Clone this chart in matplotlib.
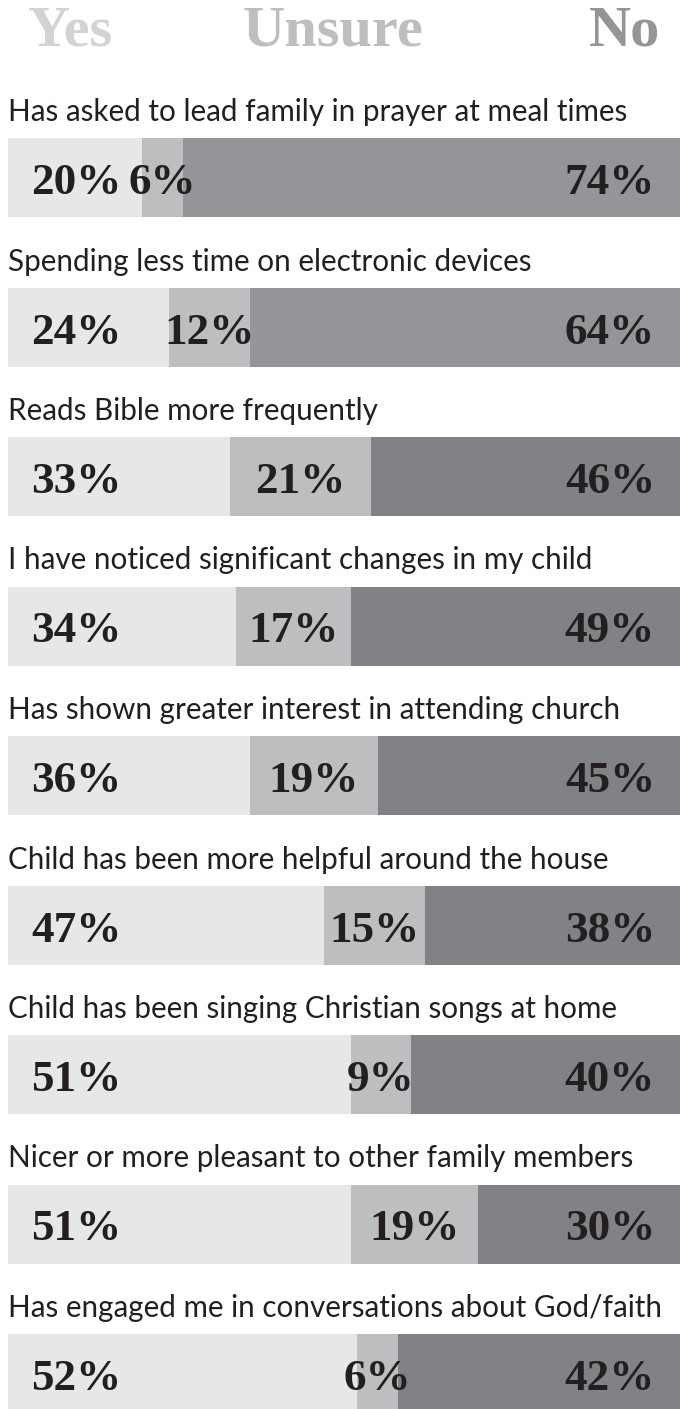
import matplotlib
matplotlib.use('Agg')
from matplotlib import pyplot as plt

questions = [
    'Has asked to lead family in prayer at meal times',
    'Spending less time on electronic devices',
    'Reads Bible more frequently',
    'I have noticed significant changes in my child',
    'Has shown greater interest in attending church',
    'Child has been more helpful around the house',
    'Child has been singing Christian songs at home',
    'Nicer or more pleasant to other family members',
    'Has engaged me in conversations about God/faith',
]
yes = [20, 24, 33, 34, 36, 47, 51, 51, 52]
unsure = [6, 12, 21, 17, 19, 15, 9, 19, 6]
no = [74, 64, 46, 49, 45, 38, 40, 30, 42]
headers = ['Yes', 'Unsure', 'No']

W, H = 680, 1409
fig = plt.figure(figsize=(W / 100, H / 100), dpi=100)
ax = fig.add_axes([0, 0, 1, 1])
# x in percent, 0 starts 8px from the left edge
ax.set_xlim(-8 / 672 * 100, 100)
ax.set_ylim(H, 0)
ax.axis('off')

c_yes, c_uns = '#e6e7e8', '#bcbec0'
c_no = ['#939598', '#939598'] + ['#808285'] * 7
serif = 'Liberation Serif'
sans = 'Lato'
dark = '#231f20'

pitch = 149.5
bar_h = 79
for i, q in enumerate(questions):
    top = 138 + i * pitch
    yc = top + bar_h / 2
    ax.barh(yc, yes[i], height=bar_h, left=0, color=c_yes, lw=0)
    ax.barh(yc, unsure[i], height=bar_h, left=yes[i], color=c_uns, lw=0)
    ax.barh(yc, no[i], height=bar_h, left=yes[i] + unsure[i], color=c_no[i], lw=0)
    ax.text(0, top - 17, q, fontsize=21.3, family=sans, color=dark,
            va='baseline', ha='left')
    base = top + 56
    ax.text(3.5, base, f'{yes[i]}%', fontsize=32.5, family=serif, weight='bold',
            color=dark, va='baseline', ha='left')
    ax.text(yes[i] + unsure[i] / 2, base, f'{unsure[i]}%', fontsize=32.5, family=serif,
            weight='bold', color=dark, va='baseline', ha='center')
    ax.text(96.3, base, f'{no[i]}%', fontsize=32.5, family=serif, weight='bold',
            color=dark, va='baseline', ha='right')

hx = [(70 - 8) / 672 * 100, (333 - 8) / 672 * 100, (625 - 8) / 672 * 100]
hc = ['#d1d3d4', '#bcbec0', '#939598']
for x, t, c in zip(hx, headers, hc):
    ax.text(x, 46, t, fontsize=42, family=serif, weight='bold', color=c,
            va='baseline', ha='center')

fig.savefig('out.png', dpi=100)
